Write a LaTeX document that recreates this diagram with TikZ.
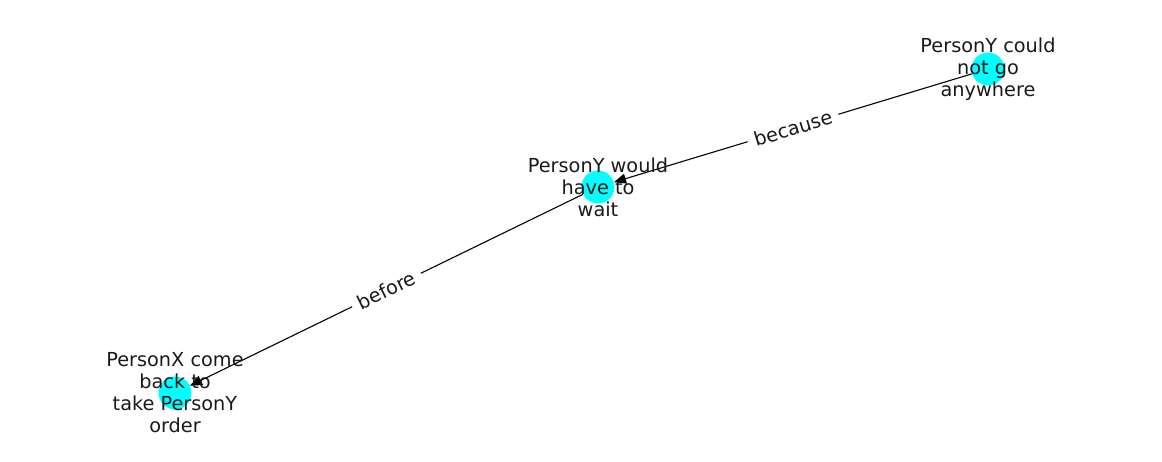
\documentclass[tikz,border=0pt]{standalone}
\usepackage{fontspec}
\setmainfont{DejaVu Sans}
\usetikzlibrary{arrows.meta, positioning}
\definecolor{nodecyan}{RGB}{0,255,255}
\tikzset{>={Triangle[length=12pt,width=10pt]}}
\tikzset{dot/.style={circle, fill=nodecyan, inner sep=0pt, minimum size=33pt},
	word/.style={align=center, font=\fontsize{19.3}{22}\selectfont, text=black!90},
	rel/.style={sloped, fill=white, inner xsep=7pt, inner ysep=3pt, font=\fontsize{19.3}{22}\selectfont, text=black!90}}

\begin{document}
\begin{tikzpicture}[x=1pt, y=-1pt]
	\useasboundingbox (0,0) rectangle (1162,462);
	\node[dot] (A) at (988,69) {};
	\node[dot] (B) at (598,187) {};
	\node[dot] (C) at (175,393) {};
	\draw [->, line width=1.1pt] (A) -- (B) node[rel, midway] {because};
	\draw [->, line width=1.1pt] (B) -- (C) node[rel, midway] {before};
	\node[word] (tA) at (A) {PersonY could\\not go\\anywhere};
	\node[word] (tB) at (B) {PersonY would\\have to\\wait};
	\node[word] (tC) at (C) {PersonX come\\back to\\take PersonY\\order};
\end{tikzpicture}
\end{document}
